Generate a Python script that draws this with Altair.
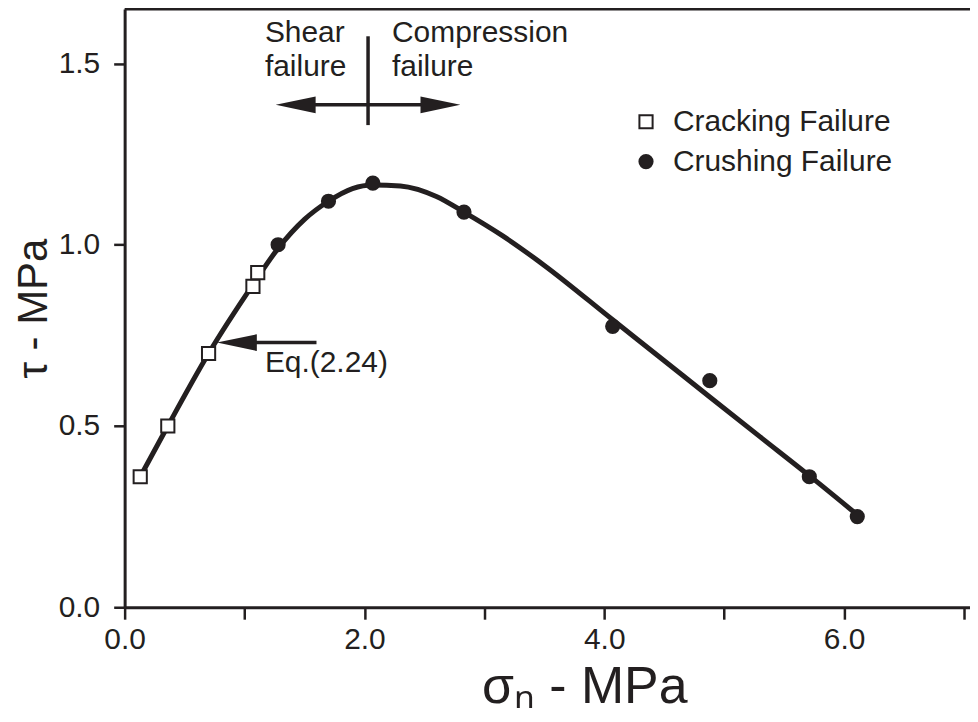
import altair as alt
import pandas as pd

# ---------------- data ----------------
crack_x = [0.13, 0.36, 0.70, 1.07, 1.11]
crack_y = [0.36, 0.50, 0.70, 0.885, 0.923]

crush_x = [1.28, 1.70, 2.07, 2.83, 4.07, 4.88, 5.71, 6.11]
crush_y = [1.00, 1.12, 1.17, 1.09, 0.775, 0.625, 0.36, 0.25]

curve_x = [0.13, 0.36, 0.70, 1.07, 1.28, 1.50, 1.70, 1.90, 2.07, 2.30, 2.60, 2.83,
           3.15, 3.50, 4.07, 4.50, 4.88, 5.30, 5.71, 6.11]
curve_y = [0.36, 0.50, 0.70, 0.89, 0.99, 1.07, 1.12, 1.155, 1.165, 1.162, 1.133, 1.09,
           1.025, 0.943, 0.793, 0.68, 0.58, 0.47, 0.363, 0.255]

x_ticks = [0, 1, 2, 3, 4, 5, 6, 7]
y_ticks = [0.0, 0.5, 1.0, 1.5]
series_names = ["Cracking Failure", "Crushing Failure"]

# annotation geometry (data units)
shaft_x1 = [0.95, 1.40, 2.03]
shaft_x2 = [1.60, 2.65, 2.03]
shaft_y1 = [0.73, 1.386, 1.33]
shaft_y2 = [0.73, 1.386, 1.575]
head_left_x = [0.77, 1.26]
head_left_y = [0.73, 1.386]
head_right_x = [2.80]
head_right_y = [1.386]
note_text = ["Shear", "failure", "Compression", "failure", "Eq.(2.24)"]
note_x = [1.17, 1.17, 2.23, 2.23, 1.17]
note_y = [1.56, 1.465, 1.56, 1.465, 0.65]

INK = "#231f20"
FONT = "Liberation Sans"
W, H = 848, 600

xs = alt.Scale(domain=[0, 7.05], nice=False, zero=False)
ys = alt.Scale(domain=[0, 1.65], nice=False, zero=False)

pts = pd.DataFrame({
    "x": crack_x + crush_x,
    "y": crack_y + crush_y,
    "type": [series_names[0]] * len(crack_x) + [series_names[1]] * len(crush_x),
})
curve = pd.DataFrame({"x": curve_x, "y": curve_y})
shafts = pd.DataFrame({"x": shaft_x1, "x2": shaft_x2, "y": shaft_y1, "y2": shaft_y2})
hl = pd.DataFrame({"x": head_left_x, "y": head_left_y})
hr = pd.DataFrame({"x": head_right_x, "y": head_right_y})
notes = pd.DataFrame({"t": note_text, "x": note_x, "y": note_y})

x_axis = alt.Axis(values=x_ticks,
                  labelExpr="datum.value % 2 == 0 ? format(datum.value, '.1f') : ''",
                  title="σₙ - MPa", grid=False, tickSize=12, labelPadding=5,
                  titlePadding=8, titleX=461, titleAlign="center", titleFontSize=52,
                  labelFlush=False, labelOverlap=False)
y_axis = alt.Axis(values=y_ticks, format=".1f", title="τ - MPa", grid=False,
                  tickSize=11, labelPadding=14, titlePadding=3, titleFontSize=42)

line = alt.Chart(curve).mark_line(color=INK, strokeWidth=5, interpolate="monotone").encode(
    x=alt.X("x:Q", scale=xs, axis=x_axis),
    y=alt.Y("y:Q", scale=ys, axis=y_axis),
)

points = alt.Chart(pts).mark_point(filled=True, size=175, stroke=INK, strokeWidth=2,
                                   opacity=1).encode(
    x=alt.X("x:Q", scale=xs),
    y=alt.Y("y:Q", scale=ys),
    color=alt.Color("type:N", scale=alt.Scale(domain=series_names, range=["white", INK]),
                    legend=alt.Legend(orient="none", legendX=508, legendY=98, title=None,
                                      labelFontSize=30, labelFont=FONT, labelColor=INK,
                                      labelLimit=500, symbolSize=175, symbolStrokeWidth=2,
                                      symbolStrokeColor=INK, rowPadding=10,
                                      labelOffset=12)),
    shape=alt.Shape("type:N", scale=alt.Scale(domain=series_names, range=["square", "circle"])),
)

shaft = alt.Chart(shafts).mark_rule(color=INK, strokeWidth=3.5).encode(
    x=alt.X("x:Q", scale=xs), x2="x2:Q",
    y=alt.Y("y:Q", scale=ys), y2="y2:Q",
)
head_l = alt.Chart(hl).mark_point(shape="M0,0 L2,-0.42 L2,0.42 Z", size=1600, filled=True,
                                  color=INK, opacity=1, strokeWidth=0).encode(
    x=alt.X("x:Q", scale=xs), y=alt.Y("y:Q", scale=ys))
head_r = alt.Chart(hr).mark_point(shape="M0,0 L-2,-0.42 L-2,0.42 Z", size=1600, filled=True,
                                  color=INK, opacity=1, strokeWidth=0).encode(
    x=alt.X("x:Q", scale=xs), y=alt.Y("y:Q", scale=ys))

text = alt.Chart(notes).mark_text(align="left", baseline="alphabetic", fontSize=30,
                                  font=FONT, color=INK).encode(
    x=alt.X("x:Q", scale=xs), y=alt.Y("y:Q", scale=ys), text="t:N")

top = alt.Chart(pd.DataFrame({"a": [0]})).mark_rule(color=INK, strokeWidth=3).encode(
    x=alt.value(0), x2=alt.value(W), y=alt.value(0))

chart = alt.layer(top, line, shaft, head_l, head_r, points, text).properties(
    width=W, height=H,
    autosize=alt.AutoSizeParams(type="none"),
    padding={"left": 117, "top": 0, "right": 0, "bottom": 106},
).configure(
    background="white",
).configure_view(
    stroke=None,
).configure_axis(
    labelFont=FONT, titleFont=FONT, labelColor=INK, titleColor=INK,
    domainColor=INK, tickColor=INK, titleFontWeight="normal",
    labelFontSize=30, titleFontSize=46, domainWidth=3, tickWidth=2.5,
)

chart.save("out.html", embed_options={"renderer": "svg", "actions": False})
